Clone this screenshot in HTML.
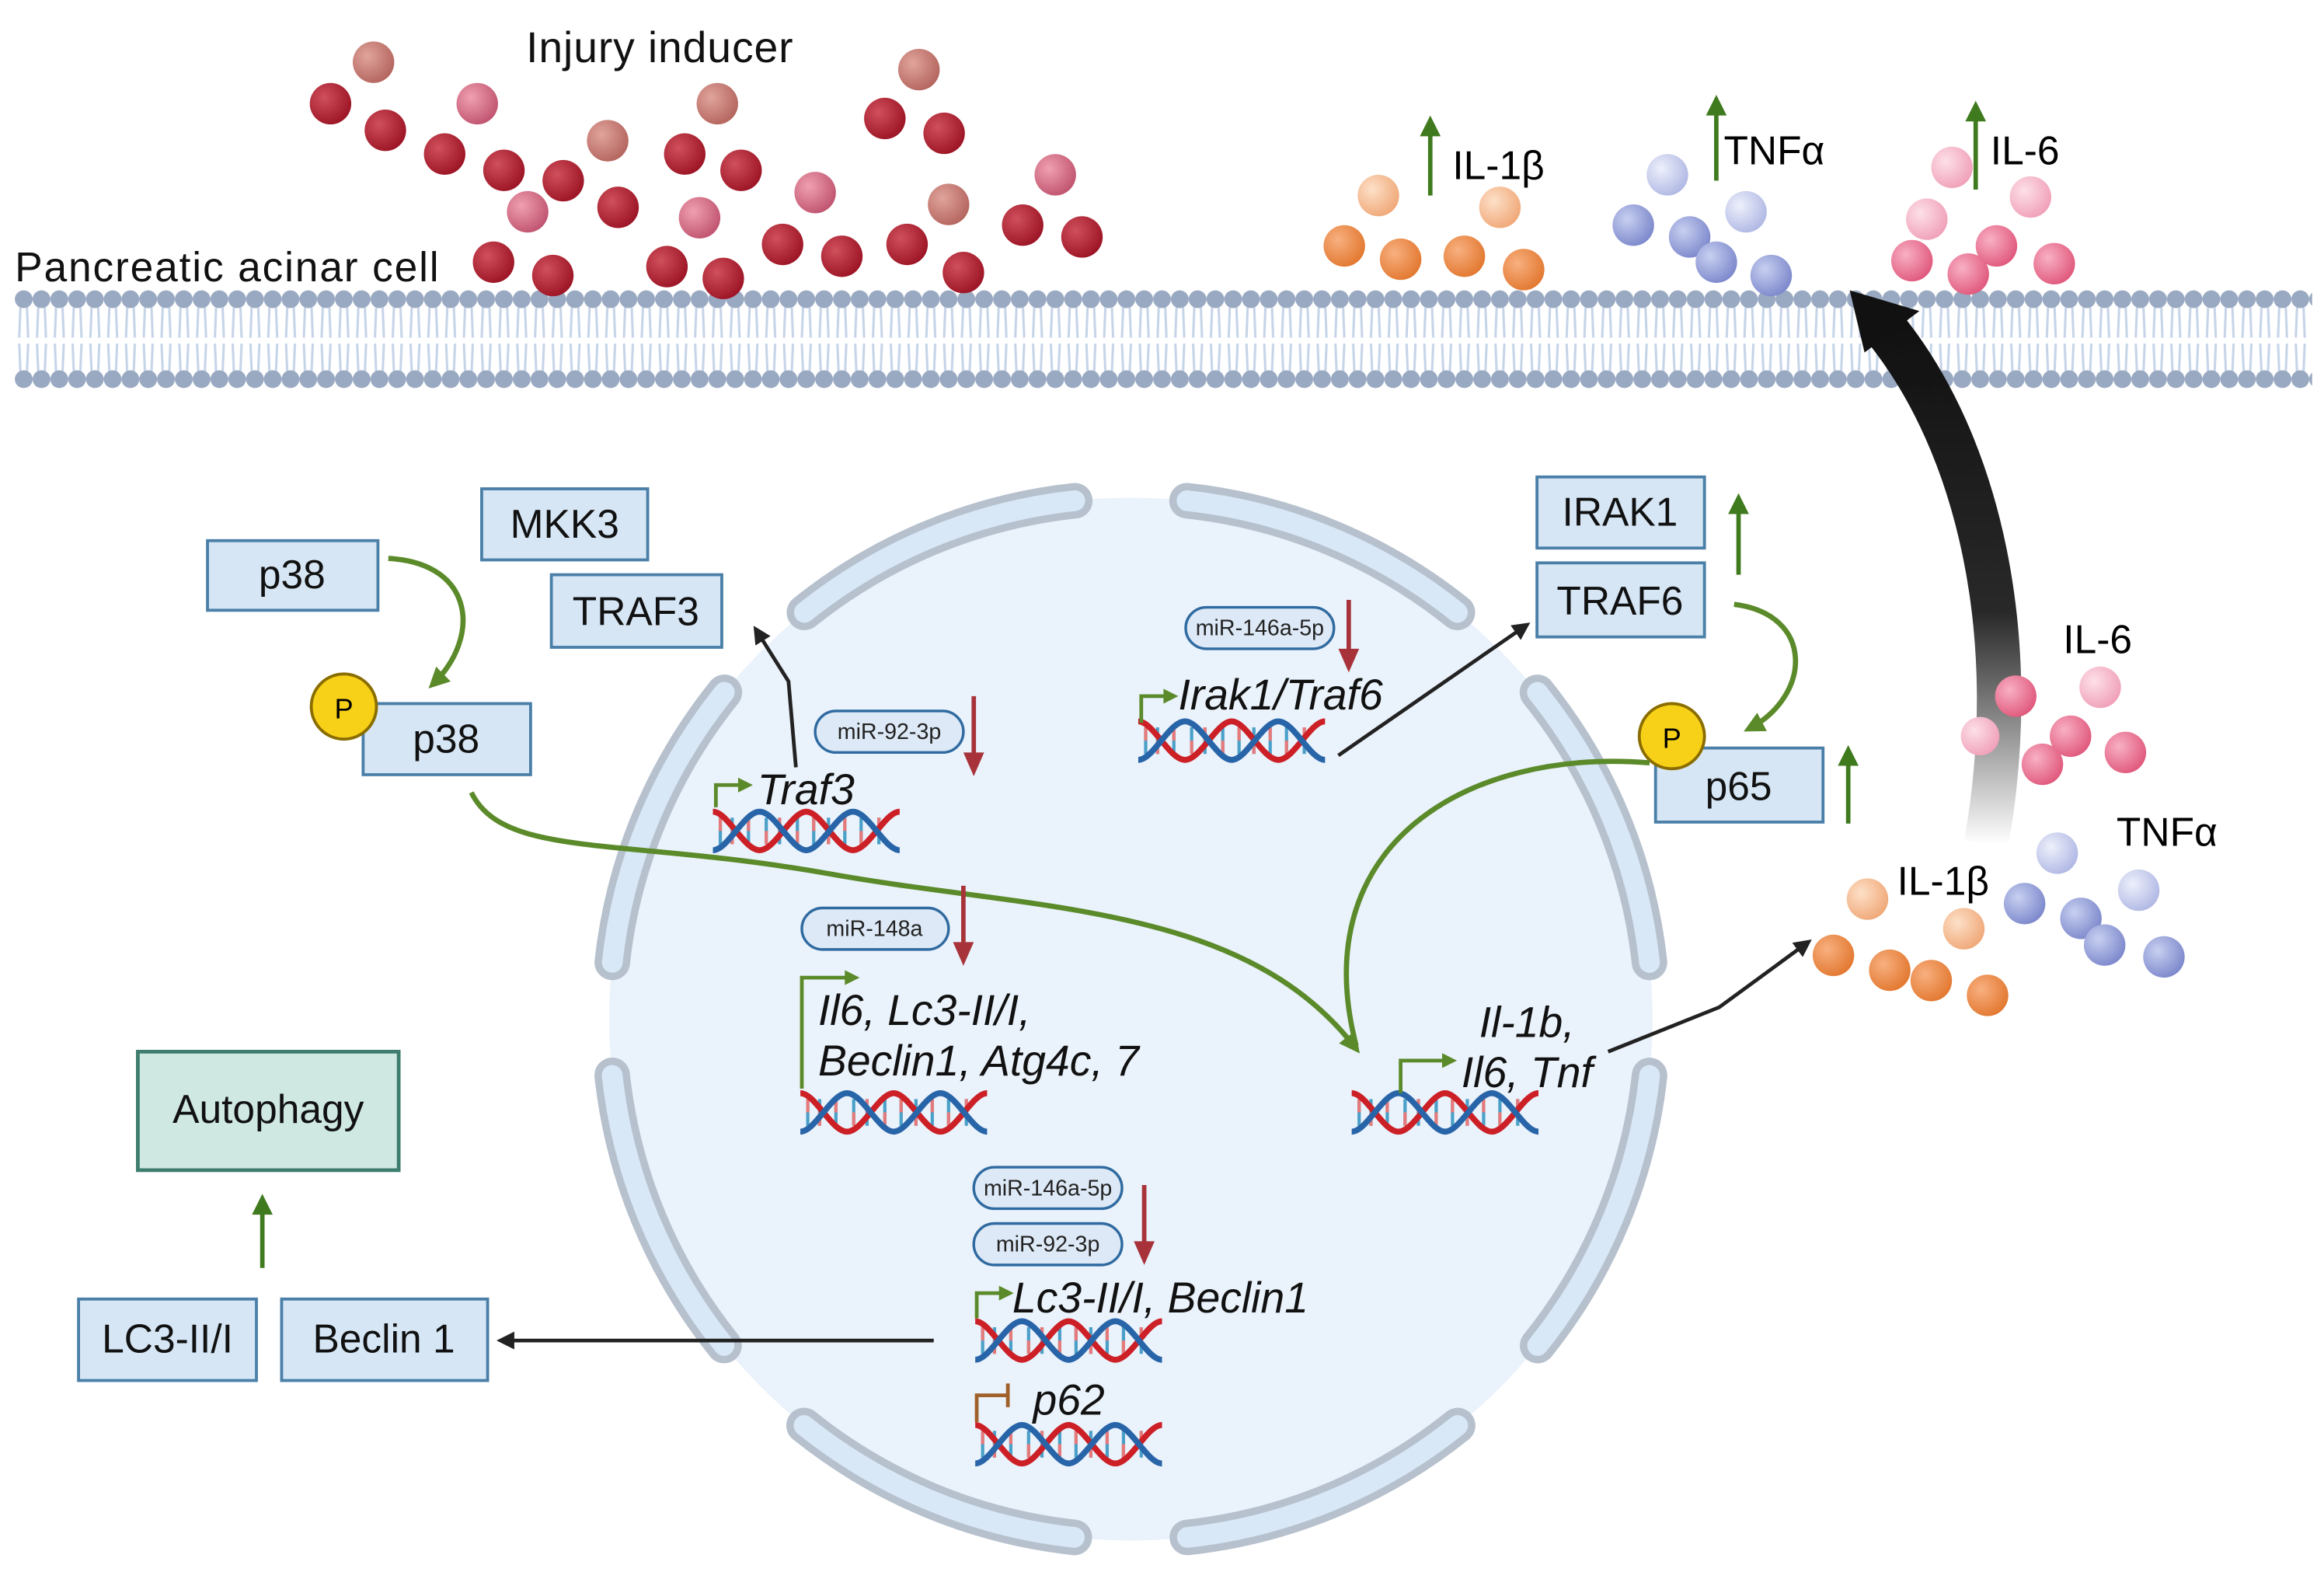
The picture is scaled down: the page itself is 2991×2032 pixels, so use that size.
<!DOCTYPE html>
<html><head><meta charset="utf-8"><style>
html,body{margin:0;padding:0;background:#fff}
svg{display:block}
text{font-family:"Liberation Sans",sans-serif}
</style></head><body>
<svg width="2991" height="2032" viewBox="0 0 1568 1066" preserveAspectRatio="none" xmlns="http://www.w3.org/2000/svg">
<defs>
<pattern id="mem" x="10" y="0" width="12" height="1066" patternUnits="userSpaceOnUse">
<path d="M4,202 L3,228 M8,202 L9,228 M3,232 L4,256 M9,232 L8,256" stroke="#c6d4e8" stroke-width="1.6" fill="none"/>
<circle cx="6" cy="202" r="6" fill="#99a9c2"/>
<circle cx="6" cy="256" r="6" fill="#99a9c2"/>
</pattern>
<radialGradient id="dr" cx="35%" cy="35%" r="70%"><stop offset="0" stop-color="#d0505c"/><stop offset="1" stop-color="#9c1425"/></radialGradient>
<radialGradient id="pk" cx="35%" cy="35%" r="70%"><stop offset="0" stop-color="#f0a0b0"/><stop offset="1" stop-color="#c05470"/></radialGradient>
<radialGradient id="lb" cx="35%" cy="35%" r="70%"><stop offset="0" stop-color="#e0a49c"/><stop offset="1" stop-color="#b4655e"/></radialGradient>
<radialGradient id="or" cx="35%" cy="35%" r="70%"><stop offset="0" stop-color="#f8b080"/><stop offset="1" stop-color="#e27830"/></radialGradient>
<radialGradient id="lo" cx="35%" cy="35%" r="70%"><stop offset="0" stop-color="#fde0c8"/><stop offset="1" stop-color="#f0a878"/></radialGradient>
<radialGradient id="bl" cx="35%" cy="35%" r="70%"><stop offset="0" stop-color="#c8d0f0"/><stop offset="1" stop-color="#7c88cc"/></radialGradient>
<radialGradient id="lbl" cx="35%" cy="35%" r="70%"><stop offset="0" stop-color="#eef0fb"/><stop offset="1" stop-color="#b0b8e4"/></radialGradient>
<radialGradient id="p2" cx="35%" cy="35%" r="70%"><stop offset="0" stop-color="#f8b0c4"/><stop offset="1" stop-color="#e0587c"/></radialGradient>
<radialGradient id="lp" cx="35%" cy="35%" r="70%"><stop offset="0" stop-color="#fde0e8"/><stop offset="1" stop-color="#f0a0b8"/></radialGradient>
<linearGradient id="bk" x1="0" y1="1" x2="0" y2="0"><stop offset="0" stop-color="#000" stop-opacity="0"/><stop offset="0.45" stop-color="#111" stop-opacity="0.9"/><stop offset="1" stop-color="#111"/></linearGradient>
<g id="dna">
<g stroke-width="2.2">
<path d="M5,-9V9M13,-9V9M24,-9V9M36,-9V9M45,-9V9M57,-9V9M68,-9V9M78,-9V9M89,-9V9M100,-9V9M112,-9V9" stroke="#4aa0c8"/>
<path d="M5,-9V0M13,0V9M24,-9V0M36,0V9M45,-9V0M57,0V9M68,-9V0M78,0V9M89,-9V0M100,0V9M112,-9V0" stroke="#e67a7a"/>
</g>
<path d="M0,-13 C10,-13 21,13 31.5,13 S53,-13 63,-13 S84,13 94.5,13 S116,-13 126,-13" stroke="#cc1f26" stroke-width="4" fill="none"/>
<path d="M0,13 C10,13 21,-13 31.5,-13 S53,13 63,13 S84,-13 94.5,-13 S116,13 126,13" stroke="#2864a8" stroke-width="4" fill="none"/>
</g>
<marker id="ab" markerWidth="12" markerHeight="12" refX="9" refY="6" orient="auto" markerUnits="userSpaceOnUse"><path d="M0,0 L12,6 L0,12z" fill="#222"/></marker>
<marker id="ag" markerWidth="14" markerHeight="14" refX="10" refY="7" orient="auto" markerUnits="userSpaceOnUse"><path d="M0,0 L14,7 L0,14z" fill="#5b8a2a"/></marker>
</defs>

<rect x="10" y="194" width="1550" height="70" fill="url(#mem)"/>

<circle cx="763" cy="688" r="352" fill="#eaf2fb"/>
<g fill="none" stroke-linecap="round" transform="rotate(-90 763 688)">
<circle cx="763" cy="688" r="352" stroke="#b6c1cd" stroke-width="24" stroke-dasharray="200 76.5" stroke-dashoffset="-38"/>
<circle cx="763" cy="688" r="352" stroke="#d8e8f7" stroke-width="14" stroke-dasharray="200 76.5" stroke-dashoffset="-38"/>
</g>

<g>
<circle cx="252" cy="42" r="14" fill="url(#lb)"/><circle cx="223" cy="70" r="14" fill="url(#dr)"/><circle cx="260" cy="88" r="14" fill="url(#dr)"/>
<circle cx="322" cy="70" r="14" fill="url(#pk)"/><circle cx="300" cy="104" r="14" fill="url(#dr)"/><circle cx="340" cy="115" r="14" fill="url(#dr)"/>
<circle cx="380" cy="122" r="14" fill="url(#dr)"/><circle cx="410" cy="95" r="14" fill="url(#lb)"/><circle cx="356" cy="143" r="14" fill="url(#pk)"/>
<circle cx="417" cy="140" r="14" fill="url(#dr)"/><circle cx="333" cy="177" r="14" fill="url(#dr)"/><circle cx="373" cy="186" r="14" fill="url(#dr)"/>
<circle cx="450" cy="180" r="14" fill="url(#dr)"/><circle cx="488" cy="188" r="14" fill="url(#dr)"/><circle cx="472" cy="147" r="14" fill="url(#pk)"/>
<circle cx="462" cy="104" r="14" fill="url(#dr)"/><circle cx="484" cy="70" r="14" fill="url(#lb)"/><circle cx="500" cy="115" r="14" fill="url(#dr)"/>
<circle cx="550" cy="130" r="14" fill="url(#pk)"/><circle cx="528" cy="165" r="14" fill="url(#dr)"/><circle cx="568" cy="173" r="14" fill="url(#dr)"/>
<circle cx="612" cy="165" r="14" fill="url(#dr)"/><circle cx="650" cy="184" r="14" fill="url(#dr)"/><circle cx="640" cy="138" r="14" fill="url(#lb)"/>
<circle cx="620" cy="47" r="14" fill="url(#lb)"/><circle cx="597" cy="80" r="14" fill="url(#dr)"/><circle cx="637" cy="90" r="14" fill="url(#dr)"/>
<circle cx="712" cy="118" r="14" fill="url(#pk)"/><circle cx="690" cy="152" r="14" fill="url(#dr)"/><circle cx="730" cy="160" r="14" fill="url(#dr)"/>
</g>
<text x="355" y="42" font-size="29" fill="#111" textLength="180">Injury inducer</text>
<text x="10" y="190" font-size="28" fill="#111" textLength="286">Pancreatic acinar cell</text>

<circle cx="930" cy="132" r="14" fill="url(#lo)"/><circle cx="1012" cy="140" r="14" fill="url(#lo)"/><circle cx="907" cy="166" r="14" fill="url(#or)"/><circle cx="945" cy="175" r="14" fill="url(#or)"/><circle cx="988" cy="173" r="14" fill="url(#or)"/><circle cx="1028" cy="182" r="14" fill="url(#or)"/>
<circle cx="1125" cy="118" r="14" fill="url(#lbl)"/><circle cx="1178" cy="143" r="14" fill="url(#lbl)"/><circle cx="1102" cy="152" r="14" fill="url(#bl)"/><circle cx="1140" cy="160" r="14" fill="url(#bl)"/><circle cx="1158" cy="177" r="14" fill="url(#bl)"/><circle cx="1195" cy="186" r="14" fill="url(#bl)"/>
<circle cx="1317" cy="113" r="14" fill="url(#lp)"/><circle cx="1370" cy="133" r="14" fill="url(#lp)"/><circle cx="1300" cy="148" r="14" fill="url(#lp)"/><circle cx="1347" cy="166" r="14" fill="url(#p2)"/><circle cx="1328" cy="185" r="14" fill="url(#p2)"/><circle cx="1290" cy="176" r="14" fill="url(#p2)"/><circle cx="1386" cy="178" r="14" fill="url(#p2)"/>
<g stroke="#3f7a1e" stroke-width="3"><path d="M965,132V90M1158,122V76M1333,128V80"/></g>
<g fill="#3f7a1e"><path d="M958,92L965,78L972,92z"/><path d="M1151,78L1158,64L1165,78z"/><path d="M1326,82L1333,68L1340,82z"/></g>
<text x="980" y="121" font-size="27">IL-1β</text>
<text x="1163" y="111" font-size="27">TNFα</text>
<text x="1343" y="111" font-size="27">IL-6</text>

<path d="M1340,570 C1365,430 1335,300 1272,222" stroke="url(#bk)" stroke-width="30" fill="none"/>
<path d="M1248,196 L1295,210 L1258,238z" fill="#111"/>

<circle cx="1360" cy="470" r="14" fill="url(#p2)"/><circle cx="1417" cy="464" r="14" fill="url(#lp)"/><circle cx="1397" cy="497" r="14" fill="url(#p2)"/><circle cx="1378" cy="516" r="14" fill="url(#p2)"/><circle cx="1434" cy="508" r="14" fill="url(#p2)"/><circle cx="1336" cy="497" r="13" fill="url(#lp)"/>
<text x="1392" y="441" font-size="27">IL-6</text>
<text x="1428" y="571" font-size="27">TNFα</text>
<circle cx="1388" cy="576" r="14" fill="url(#lbl)"/><circle cx="1443" cy="601" r="14" fill="url(#lbl)"/><circle cx="1366" cy="610" r="14" fill="url(#bl)"/><circle cx="1404" cy="620" r="14" fill="url(#bl)"/><circle cx="1420" cy="638" r="14" fill="url(#bl)"/><circle cx="1460" cy="646" r="14" fill="url(#bl)"/>
<circle cx="1260" cy="607" r="14" fill="url(#lo)"/><circle cx="1325" cy="627" r="14" fill="url(#lo)"/><circle cx="1237" cy="645" r="14" fill="url(#or)"/><circle cx="1275" cy="655" r="14" fill="url(#or)"/><circle cx="1303" cy="662" r="14" fill="url(#or)"/><circle cx="1341" cy="672" r="14" fill="url(#or)"/>
<text x="1280" y="604" font-size="27">IL-1β</text>

<g fill="#d6e6f5" stroke="#4a7fa8" stroke-width="2">
<rect x="140" y="365" width="115" height="47"/>
<rect x="325" y="330" width="112" height="48"/>
<rect x="372" y="388" width="115" height="49"/>
<rect x="245" y="475" width="113" height="48"/>
<rect x="1037" y="322" width="113" height="48"/>
<rect x="1037" y="380" width="113" height="50"/>
<rect x="1117" y="505" width="113" height="50"/>
<rect x="53" y="877" width="120" height="55"/>
<rect x="190" y="877" width="139" height="55"/>
</g>
<rect x="93" y="710" width="176" height="80" fill="#cfe8e2" stroke="#3e7d6e" stroke-width="2.5"/>
<g font-size="27" fill="#111" text-anchor="middle">
<text x="197" y="397">p38</text><text x="381" y="363">MKK3</text><text x="429" y="422">TRAF3</text>
<text x="301" y="508">p38</text><text x="1093" y="355">IRAK1</text><text x="1093" y="415">TRAF6</text>
<text x="1173" y="540">p65</text><text x="113" y="913">LC3-II/I</text><text x="259" y="913">Beclin 1</text>
<text x="181" y="758" font-size="27">Autophagy</text>
</g>
<circle cx="232" cy="477" r="22" fill="#f7d117" stroke="#8a6d00" stroke-width="2"/><text x="232" y="485" font-size="19" text-anchor="middle">P</text>
<circle cx="1128" cy="497" r="22" fill="#f7d117" stroke="#8a6d00" stroke-width="2"/><text x="1128" y="505" font-size="19" text-anchor="middle">P</text>

<g stroke="#3f7a1e" stroke-width="3"><path d="M1173,388V345M1247,556V515M177,856V818"/></g>
<g fill="#3f7a1e"><path d="M1166,347L1173,333L1180,347z"/><path d="M1240,517L1247,503L1254,517z"/><path d="M170,820L177,806L184,820z"/></g>

<g fill="none" stroke="#5b8a2a" stroke-width="3.5">
<path d="M262,377 C320,380 325,430 292,462" marker-end="url(#ag)"/>
<path d="M318,535 C340,580 420,565 560,590 S 840,610 915,708" marker-end="url(#ag)"/>
<path d="M1170,408 C1225,415 1222,470 1180,492" marker-end="url(#ag)"/>
<path d="M1113,515 C990,505 880,570 915,706"/>
</g>

<g fill="none" stroke="#222" stroke-width="2.5">
<path d="M537,518 L532,460 L510,425" marker-end="url(#ab)"/>
<path d="M903,510 L1030,422" marker-end="url(#ab)"/>
<path d="M1085,710 L1160,680 L1220,636" marker-end="url(#ab)"/>
<path d="M630,905 L338,905" marker-end="url(#ab)"/>
</g>

<g stroke="#a8323a" stroke-width="3"><path d="M657,470V512M910,405V442M650,598V640M772,800V842"/></g>
<g fill="#a8323a"><path d="M650,508L657,524L664,508z"/><path d="M903,438L910,454L917,438z"/><path d="M643,636L650,652L657,636z"/><path d="M765,838L772,854L779,838z"/></g>

<g fill="#dde9f6" stroke="#2f6aa0" stroke-width="1.8">
<rect x="550" y="480" width="100" height="28" rx="14"/>
<rect x="800" y="410" width="100" height="28" rx="14"/>
<rect x="541" y="613" width="99" height="28" rx="14"/>
<rect x="657" y="788" width="100" height="28" rx="14"/>
<rect x="657" y="826" width="100" height="28" rx="14"/>
</g>
<g font-size="15" fill="#222" text-anchor="middle">
<text x="600" y="499">miR-92-3p</text><text x="850" y="429">miR-146a-5p</text><text x="590" y="632">miR-148a</text>
<text x="707" y="807">miR-146a-5p</text><text x="707" y="845">miR-92-3p</text>
</g>

<use href="#dna" x="481" y="561"/>
<use href="#dna" x="768" y="500"/>
<use href="#dna" x="540" y="751"/>
<use href="#dna" x="912" y="751"/>
<use href="#dna" x="658" y="905"/>
<use href="#dna" x="658" y="975"/>

<g fill="none" stroke="#5b8a2a" stroke-width="2.5">
<path d="M483,545V530H500"/><path d="M770,488V470H787"/><path d="M541,735V660H572"/><path d="M945,738V716H975"/><path d="M659,890V873H676"/>
</g>
<g fill="#5b8a2a"><path d="M498,525L508,530L498,535z"/><path d="M785,465L795,470L785,475z"/><path d="M570,655L580,660L570,665z"/><path d="M973,711L983,716L973,721z"/><path d="M674,868L684,873L674,878z"/></g>
<path d="M659,960V942H680M680,934V950" fill="none" stroke="#a0602a" stroke-width="2.5"/>

<g font-size="29" font-style="italic" fill="#111">
<text x="511" y="543">Traf3</text>
<text x="795" y="479">Irak1/Traf6</text>
<text x="552" y="692">Il6, Lc3-II/I,</text>
<text x="552" y="726">Beclin1, Atg4c, 7</text>
<text x="998" y="700">Il-1b,</text>
<text x="986" y="734">Il6, Tnf</text>
<text x="683" y="886">Lc3-II/I, Beclin1</text>
<text x="697" y="955">p62</text>
</g>
</svg>
</body></html>
